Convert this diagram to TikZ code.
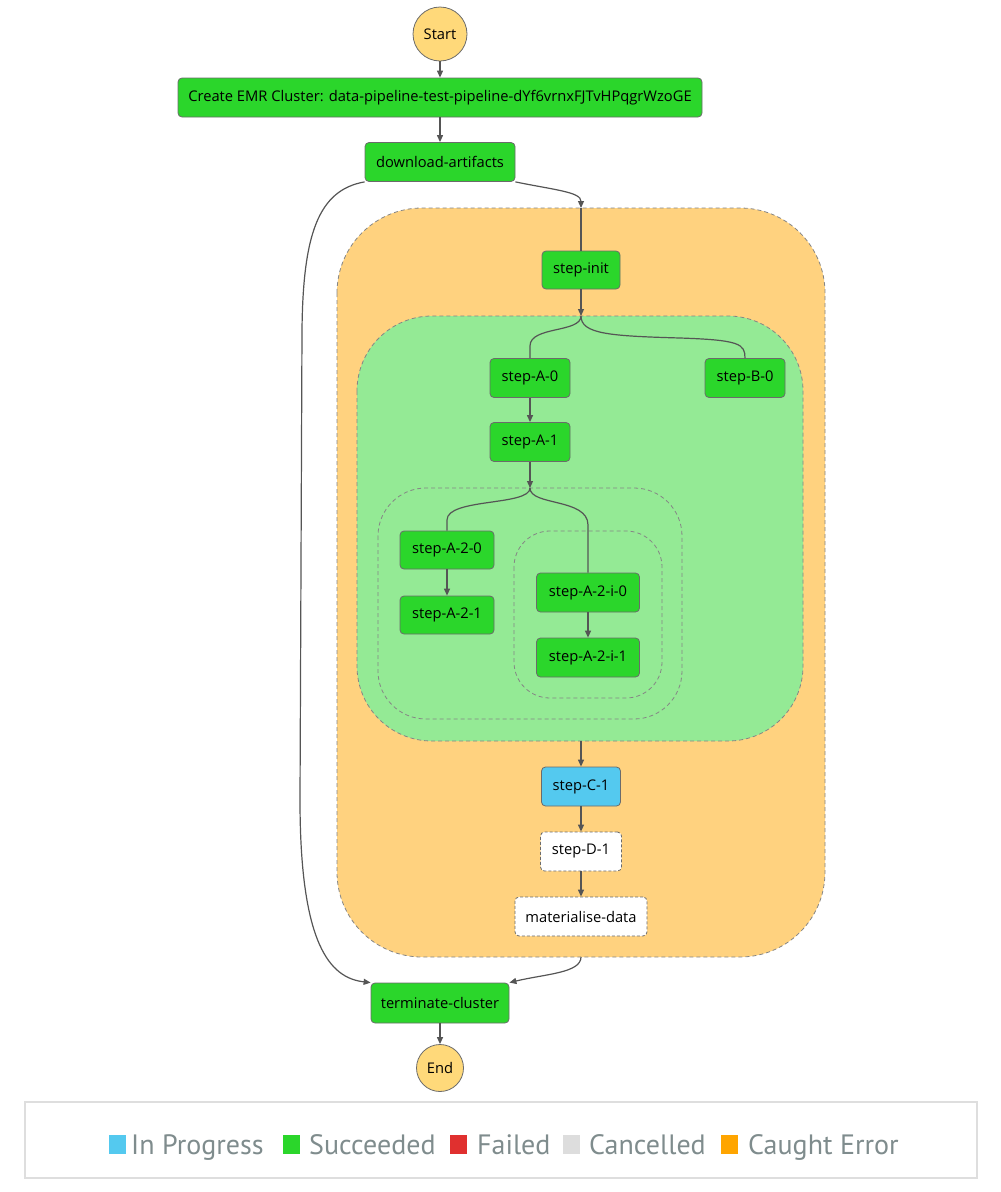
\documentclass[tikz,border=0pt]{standalone}
\usepackage{fontspec}
\setmainfont{Open Sans}
\newfontfamily\legendfont{PT Sans}
\usetikzlibrary{arrows.meta}
\definecolor{sgreen}{HTML}{2BD62B}
\definecolor{sblue}{HTML}{54C9EF}
\definecolor{sred}{HTML}{E0302F}
\definecolor{sgray}{HTML}{DDDDDD}
\definecolor{sorange}{HTML}{FFA500}
\definecolor{regorange}{HTML}{FFD27F}
\definecolor{reggreen}{HTML}{94EA95}
\definecolor{termfill}{HTML}{FFD97A}
\definecolor{nodeborder}{HTML}{6B6B6B}
\definecolor{regborder}{HTML}{858585}
\definecolor{arrowgray}{HTML}{555555}
\definecolor{legtext}{HTML}{7F8C8D}
\definecolor{legborder}{HTML}{DEDEDE}
\begin{document}
\begin{tikzpicture}[x=1pt,y=-1pt,
  basebox/.style={rectangle, rounded corners=4pt, draw=nodeborder, line width=0.8pt, inner sep=0pt,
    font=\fontsize{14.7}{17}\selectfont, text=black},
  okbox/.style={basebox, fill=sgreen},
  runbox/.style={basebox, fill=sblue},
  waitbox/.style={basebox, fill=white, dashed, dash pattern=on 3pt off 2pt},
  termnode/.style={circle, draw=nodeborder, line width=0.8pt, fill=termfill, inner sep=0pt,
    font=\fontsize{14.7}{17}\selectfont},
  region/.style={draw=regborder, line width=0.8pt, dash pattern=on 4pt off 3pt},
  conn/.style={draw=arrowgray, line width=1.2pt},
  arr/.style={conn, -{Triangle[length=7pt,width=6pt]}},
  legsq/.style={rectangle, inner sep=0pt, minimum width=17pt, minimum height=19pt},
  legtx/.style={anchor=base west, inner sep=0pt, text=legtext, font=\legendfont\fontsize{28}{30}\selectfont},
]
\useasboundingbox (0,0) rectangle (1001,1192);

% regions
\draw[region, fill=regorange, rounded corners=85pt] (337,208) rectangle (825,957);
\draw[region, fill=reggreen, rounded corners=75pt] (357,316) rectangle (803,741);
\draw[region, rounded corners=48pt] (378,488) rectangle (682,719);
\draw[region, rounded corners=36pt] (514,531) rectangle (662,698);

\coordinate (orTop) at (581,208);
\coordinate (orBot) at (581,957);
\coordinate (gTop) at (581,316);
\coordinate (gBot) at (581,741);
\coordinate (pTop) at (530,488);

% nodes
\node[termnode, minimum size=54pt] (start) at (440,34) {Start};
\node[okbox, minimum width=524pt, minimum height=39pt] (emr) at (440,97.5) {Create EMR Cluster: data-pipeline-test-pipeline-dYf6vrnxFJTvHPqgrWzoGE};
\node[okbox, minimum width=150pt, minimum height=39pt] (dl) at (440,162) {download-artifacts};
\node[okbox, minimum width=78pt, minimum height=38pt] (init) at (581,270) {step-init};
\node[okbox, minimum width=80pt, minimum height=39pt] (a0) at (530,378) {step-A-0};
\node[okbox, minimum width=80pt, minimum height=39pt] (b0) at (745,378) {step-B-0};
\node[okbox, minimum width=80pt, minimum height=39pt] (a1) at (530,442) {step-A-1};
\node[okbox, minimum width=94pt, minimum height=38pt] (a20) at (447,550) {step-A-2-0};
\node[okbox, minimum width=94pt, minimum height=38pt] (a21) at (447,615) {step-A-2-1};
\node[okbox, minimum width=103pt, minimum height=39pt] (ai0) at (588,592.5) {step-A-2-i-0};
\node[okbox, minimum width=103pt, minimum height=39pt] (ai1) at (588,657.5) {step-A-2-i-1};
\node[runbox, minimum width=79pt, minimum height=39pt] (c1) at (581,786.5) {step-C-1};
\node[waitbox, minimum width=81pt, minimum height=39pt] (d1) at (581,851.5) {step-D-1};
\node[waitbox, minimum width=132pt, minimum height=39pt] (mat) at (581,916.5) {materialise-data};
\node[okbox, minimum width=138pt, minimum height=40pt] (term) at (440,1003) {terminate-cluster};
\node[termnode, minimum size=47pt] (end) at (440,1068) {End};

% connectors
\draw[arr] (start) -- (emr);
\draw[arr] (emr) -- (dl);
\draw[arr] (dl.south east) .. controls (555,190) and (581,192) .. (orTop);
\draw[conn] (orTop) -- (init.north);
\draw[arr] (init) -- (gTop);
\draw[conn] (gTop) .. controls (581,333) and (530,326) .. (530,346) -- (a0.north);
\draw[conn] (gTop) .. controls (581,334) and (610,336) .. (680,338) .. controls (740,340) and (745,344) .. (b0.north);
\draw[arr] (a0) -- (a1);
\draw[arr] (a1) -- (pTop);
\draw[conn] (pTop) .. controls (530,506) and (447,498) .. (447,520) -- (a20.north);
\draw[conn] (pTop) .. controls (530,506) and (588,498) .. (588,525) -- (ai0.north);
\draw[arr] (a20) -- (a21);
\draw[arr] (ai0) -- (ai1);
\draw[arr] (gBot) -- (c1);
\draw[arr] (c1) -- (d1);
\draw[arr] (d1) -- (mat);
\draw[arr] (orBot) .. controls (581,973) and (545,974) .. (term.north east);
\draw[arr] (dl.south west) .. controls (318,190) and (303,235) .. (302,330) -- (300,800) .. controls (300,945) and (330,978) .. (term.north west);
\draw[arr] (term) -- (end);

% legend
\node[draw=legborder, line width=2pt, fill=white, rectangle, inner sep=0pt, minimum width=952pt, minimum height=76pt] (legend) at (501,1140) {};
\node[legsq, fill=sblue] (q1) at (117.5,1144.5) {};
\node[legtx] (t1) at (131,1154) {In Progress};
\node[legsq, fill=sgreen] (q2) at (291.5,1144.5) {};
\node[legtx] (t2) at (309,1154) {Succeeded};
\node[legsq, fill=sred] (q3) at (458.5,1144.5) {};
\node[legtx] (t3) at (477,1154) {Failed};
\node[legsq, fill=sgray] (q4) at (571.5,1144.5) {};
\node[legtx] (t4) at (589,1154) {Cancelled};
\node[legsq, fill=sorange] (q5) at (729.5,1144.5) {};
\node[legtx] (t5) at (748,1154) {Caught Error};
\end{tikzpicture}
\end{document}
